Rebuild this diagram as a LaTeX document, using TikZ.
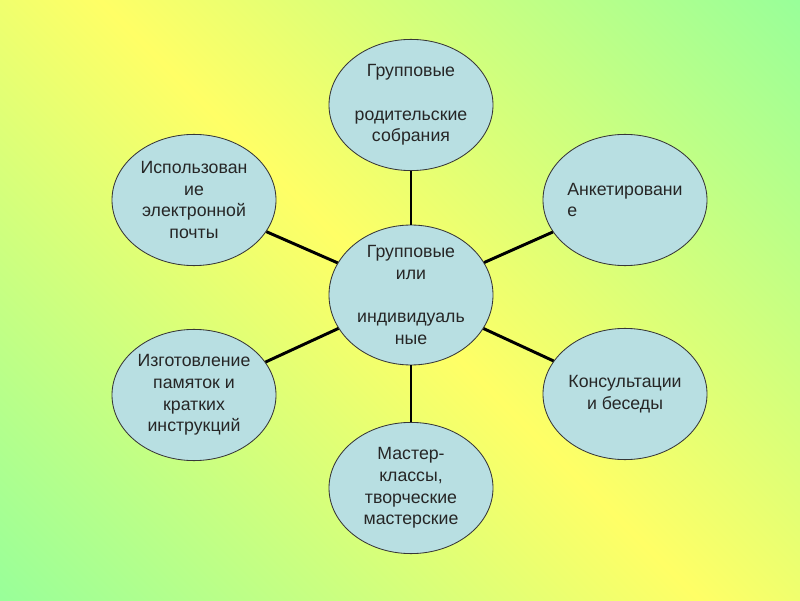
\documentclass[tikz,border=0pt]{standalone}
\usepackage{fontspec}
\setmainfont{Liberation Sans}
\usetikzlibrary{shapes.geometric}
\definecolor{bgyellow}{RGB}{255,255,102}
\definecolor{bggreen}{RGB}{153,255,153}
\definecolor{bubblefill}{RGB}{184,223,226}
\definecolor{rim}{RGB}{55,55,55}
\tikzset{
  bubble/.style={ellipse, draw=rim, line width=0.6pt, fill=bubblefill,
    minimum width=4.1cm, minimum height=3.28cm, inner sep=0pt,
    align=center, text=black!85, font=\fontsize{12.6}{15.4}\selectfont},
  link/.style={line width=2.1pt, black}
}

\begin{document}
\begin{tikzpicture}
            \useasboundingbox (0,0) rectangle (20,15);
            \begin{scope}
              \clip (0,0) rectangle (20,15);
              \shade[top color=bggreen, bottom color=bggreen, middle color=bgyellow, shading angle=-45] (-2.37,-4.87) rectangle (22.37,19.87);
            \end{scope}

            \node[bubble] (hub) at (10.275,7.625) {Групповые\\или\\\mbox{}\\индивидуаль\\ные};
            \node[bubble] (meet) at (10.275,12.375) {Групповые\\\mbox{}\\родительские\\собрания};
            \node[bubble] (mail) at (4.85,10.0) {Использован\\ие\\электронной\\почты};
            \node[bubble, align=left] (survey) at (15.625,10.0) {Анкетировани\\е};
            \node[bubble] (memo) at (4.85,5.125) {Изготовление\\памяток и\\кратких\\инструкций};
            \node[bubble] (talk) at (15.625,5.15) {Консультации\\и беседы};
            \node[bubble] (master) at (10.275,2.8) {Мастер-\\классы,\\творческие\\мастерские};

            \draw[link] (hub) -- (meet);
            \draw[link] (hub) -- (mail);
            \draw[link] (hub) -- (survey);
            \draw[link] (hub) -- (memo);
            \draw[link] (hub) -- (talk);
            \draw[link] (hub) -- (master);
\end{tikzpicture}
\end{document}
